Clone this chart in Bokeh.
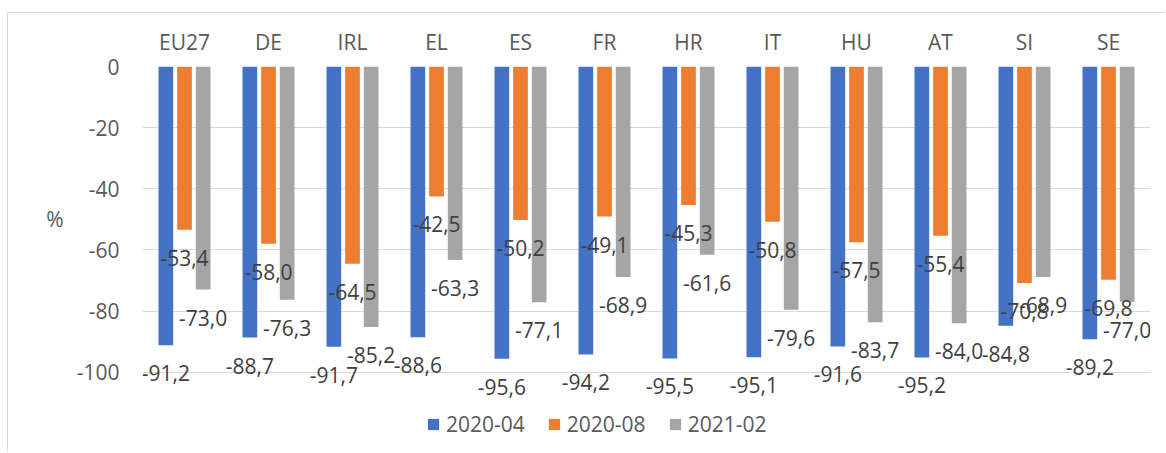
from bokeh.plotting import figure
from bokeh.models import (FactorRange, Range1d, FixedTicker, ColumnDataSource,
                          LinearAxis)
from bokeh.transform import dodge
from bokeh.core.properties import value
from bokeh.embed import file_html
from bokeh.resources import INLINE

countries = ["EU27", "DE", "IRL", "EL", "ES", "FR", "HR", "IT", "HU", "AT", "SI", "SE"]
s_2020_04 = [-91.2, -88.7, -91.7, -88.6, -95.6, -94.2, -95.5, -95.1, -91.6, -95.2, -84.8, -89.2]
s_2020_08 = [-53.4, -58.0, -64.5, -42.5, -50.2, -49.1, -45.3, -50.8, -57.5, -55.4, -70.8, -69.8]
s_2021_02 = [-73.0, -76.3, -85.2, -63.3, -77.1, -68.9, -61.6, -79.6, -83.7, -84.0, -68.9, -77.0]
series_names = ["2020-04", "2020-08", "2021-02"]
colors = ["#4472C4", "#ED7D31", "#A5A5A5"]
y_ticks = [0, -20, -40, -60, -80, -100]
y_tick_labels = ["0", "-20", "-40", "-60", "-80", "-100"]
y_label = "%"

FONT = "Open Sans"
FS = "21px"


def fmt(v):
    return f"{v:.1f}".replace(".", ",")


series = [s_2020_04, s_2020_08, s_2021_02]
data = dict(cat=countries)
for i, s in enumerate(series):
    data[f"v{i}"] = s
    data[f"l{i}"] = [fmt(v) for v in s]
src = ColumnDataSource(data)

p = figure(
    x_range=FactorRange(factors=countries, range_padding=0),
    y_range=Range1d(-124, 0),
    width=1158, height=440,
    output_backend="svg", toolbar_location=None,
    x_axis_location="above",
    min_border_left=134, min_border_right=16,
    min_border_top=53, min_border_bottom=8,
)
# light chart-area border (top and left edges visible in the reference)
p.margin = (12, 0, 0, 7)
p.styles = {"border-top": "1px solid #D9D9D9", "border-left": "1px solid #D9D9D9"}
p.outline_line_color = None
p.extra_y_ranges = {"pct": Range1d(-124, 0)}

offsets = [-0.222, 0.0, 0.222]
for i, name in enumerate(series_names):
    p.vbar(x=dodge("cat", offsets[i], range=p.x_range), top=0, bottom=f"v{i}",
           width=0.175, fill_color=colors[i], line_color=None,
           legend_label=name, source=src)

for i in range(3):
    p.text(x=dodge("cat", offsets[i], range=p.x_range), y=f"v{i}", text=f"l{i}",
           text_align="center", text_baseline="middle", y_offset=28,
           text_font=value(FONT), text_font_size=FS, text_color="#404040",
           source=src)

xa = p.xaxis[0]
xa.axis_line_color = None
xa.major_tick_line_color = None
xa.minor_tick_line_color = None
xa.major_label_text_font = FONT
xa.major_label_text_font_size = FS
xa.major_label_text_color = "#595959"
xa.major_label_standoff = 5

ya = p.yaxis[0]
ya.ticker = FixedTicker(ticks=y_ticks)
ya.major_label_overrides = {t: l for t, l in zip(y_ticks, y_tick_labels)}
ya.axis_line_color = None
ya.major_tick_line_color = None
ya.minor_tick_line_color = None
ya.major_label_text_font = FONT
ya.major_label_text_font_size = FS
ya.major_label_text_color = "#595959"
ya.major_label_standoff = 17

# "%" unit label, drawn as the single tick label of an outer left axis
pa = LinearAxis(y_range_name="pct", ticker=FixedTicker(ticks=[-50]),
                major_label_overrides={-50: y_label})
pa.axis_line_color = None
pa.major_tick_line_color = None
pa.minor_tick_line_color = None
pa.major_label_text_font = FONT
pa.major_label_text_font_size = FS
pa.major_label_text_color = "#595959"
pa.major_label_standoff = 4
p.add_layout(pa, "left")

p.xgrid.grid_line_color = None
p.ygrid.grid_line_color = "#D9D9D9"
p.ygrid.grid_line_width = 1

lg = p.legend[0]
lg.orientation = "horizontal"
lg.location = (284, 7)
lg.border_line_color = None
lg.background_fill_alpha = 0
lg.padding = 0
lg.margin = 0
lg.spacing = 22
lg.label_standoff = 6
lg.glyph_width = 14
lg.glyph_height = 14
lg.label_height = 20
lg.label_text_font = FONT
lg.label_text_font_size = FS
lg.label_text_color = "#595959"

open("out.html", "w").write(file_html(p, INLINE))
